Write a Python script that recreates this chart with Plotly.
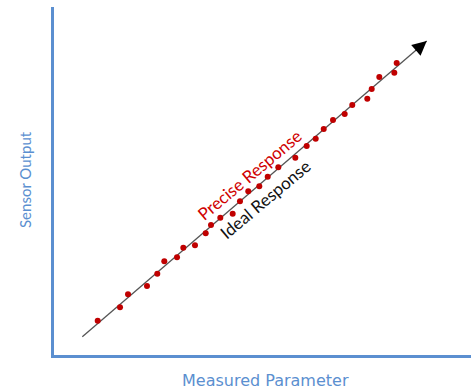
import plotly.graph_objects as go

# Measured parameter vs sensor output (arbitrary units 0-100)
meas_x = [10.48, 15.83, 17.75, 22.30, 24.77, 26.45, 29.50, 31.01, 33.81, 36.38,
          37.65, 39.88, 42.85, 44.60, 46.59, 49.23, 51.25, 53.79, 57.87, 60.60,
          62.76, 64.68, 66.91, 69.71, 71.53, 75.13, 76.19, 78.01, 81.61, 82.18]
meas_y = [9.86, 13.71, 17.44, 19.83, 23.36, 26.93, 28.07, 30.83, 31.52, 34.97,
          37.36, 39.45, 40.60, 44.17, 47.04, 48.48, 51.24, 53.94, 56.70, 60.06,
          62.16, 64.94, 67.53, 69.25, 71.84, 73.65, 76.44, 79.89, 81.12, 83.91]

ideal_x = [6.79, 89.38]
ideal_y = [5.26, 90.23]

axis_color = "#5b8fd0"
label_color = "#5b8fd0"

fig = go.Figure()
fig.add_trace(go.Scatter(x=ideal_x, y=ideal_y, mode="lines",
                         line=dict(color="#555555", width=1.3),
                         hoverinfo="skip", showlegend=False))
fig.add_trace(go.Scatter(x=meas_x, y=meas_y, mode="markers",
                         marker=dict(color="#c00000", size=6),
                         showlegend=False))

# arrow head at end of ideal line
fig.add_annotation(x=ideal_x[1], y=ideal_y[1], ax=ideal_x[1] - 3, ay=ideal_y[1] - 3.1,
                   xref="x", yref="y", axref="x", ayref="y", text="",
                   showarrow=True, arrowhead=2, arrowsize=2.2, arrowwidth=1.3,
                   arrowcolor="#000000")

fig.add_annotation(x=47.0, y=51.8, xref="x", yref="y", text="Precise Response",
                   showarrow=False, textangle=-40,
                   font=dict(family="Lato", size=17, color="#d00000"))
fig.add_annotation(x=50.6, y=44.6, xref="x", yref="y", text="Ideal Response",
                   showarrow=False, textangle=-40,
                   font=dict(family="Lato", size=17, color="#111111"))

fig.add_annotation(x=265, y=380, xref="paper", yref="paper", text="Measured Parameter",
                   showarrow=False,
                   font=dict(family="DejaVu Sans", size=16, color=label_color))
fig.add_annotation(x=25, y=180, xref="paper", yref="paper", text="Sensor Output",
                   showarrow=False, textangle=-90,
                   font=dict(family="Lato", size=15, color=label_color))

# convert pixel paper positions for labels
W, H = 471, 389
L, R, T, B = 54, 0, 7, 34
pw, ph = W - L - R, H - T - B
for a in fig.layout.annotations:
    if a.xref == "paper":
        a.x = (a.x - L) / pw
        a.y = (H - B - a.y) / ph
        a.update(xanchor="center", yanchor="middle")

fig.update_layout(
    width=W, height=H,
    margin=dict(l=L, r=R, t=T, b=B),
    paper_bgcolor="white", plot_bgcolor="white",
    xaxis=dict(range=[0, 100], showgrid=False, zeroline=False, showticklabels=False,
               ticks="", showline=True, linecolor=axis_color, linewidth=2.5),
    yaxis=dict(range=[0, 100], showgrid=False, zeroline=False, showticklabels=False,
               ticks="", showline=True, linecolor=axis_color, linewidth=2.5),
)

fig.write_html("out.html", config={"displayModeBar": False},
               post_script="document.body.style.margin='0';document.body.style.padding='0';")
